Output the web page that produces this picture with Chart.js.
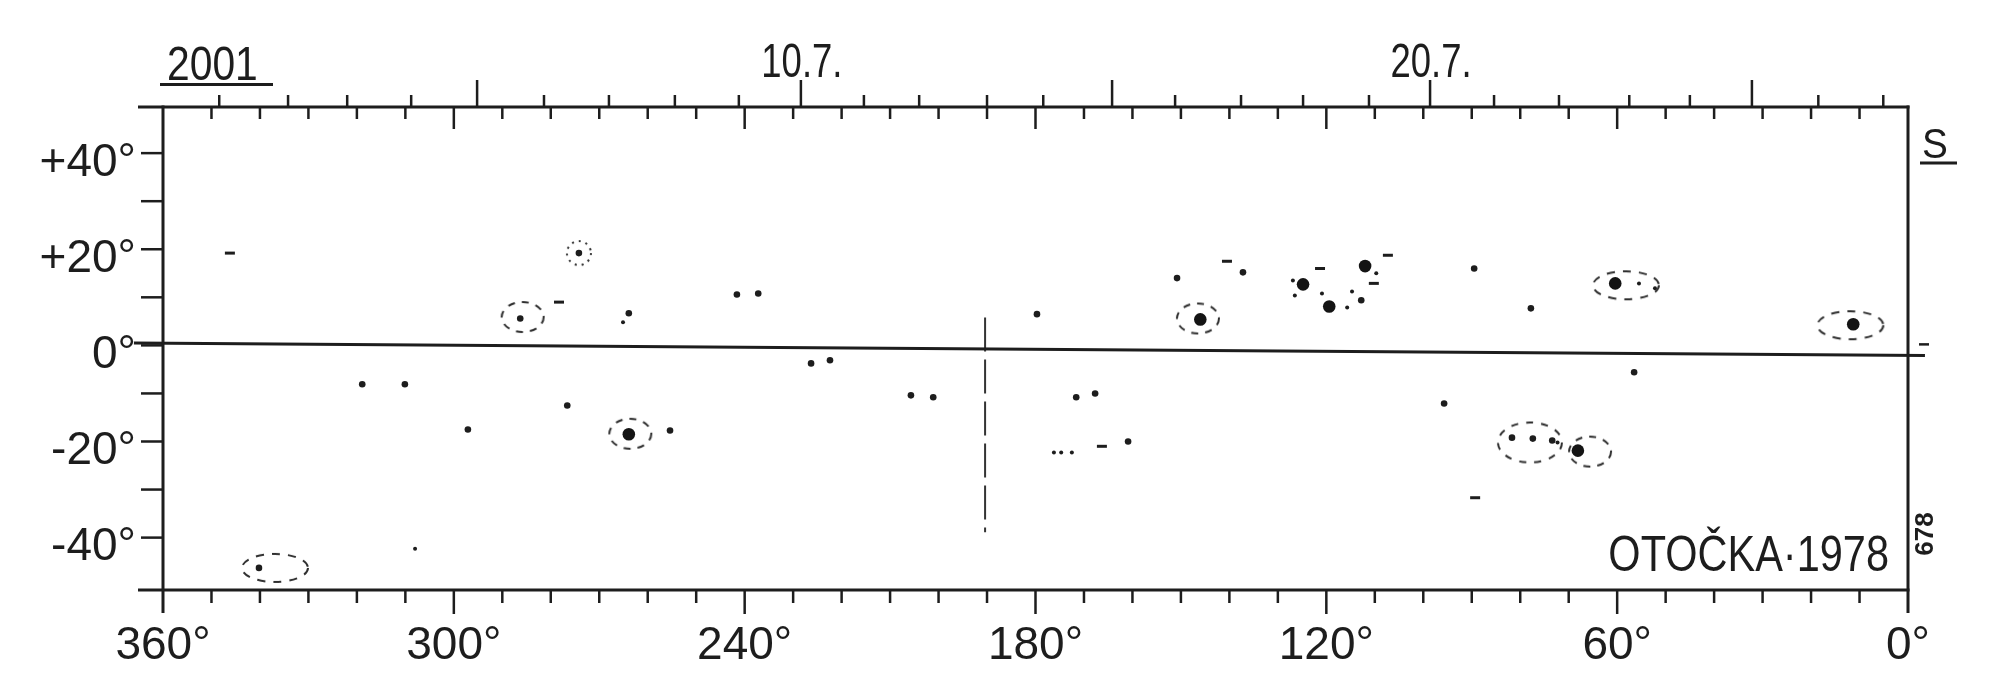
<!DOCTYPE html>
<html>
<head>
<meta charset="utf-8">
<script src="https://cdn.jsdelivr.net/npm/chart.js@4.4.1/dist/chart.umd.min.js"></script>
<style>
html,body{margin:0;padding:0;background:#ffffff;}
canvas{display:block;}
</style>
</head>
<body>
<canvas id="c" width="2000" height="694"></canvas>
<script>
const FONT = '"Liberation Sans", "DejaVu Sans", sans-serif';
const INK = '#1d1d1d';

// ---- axis data ----
const lonTicks = [360,350,340,330,320,310,300,290,280,270,260,250,240,230,220,210,200,190,180,170,160,150,140,130,120,110,100,90,80,70,60,50,40,30,20,10,0];
const lonLabelTicks = [360,300,240,180,120,60,0];
const latTicks = [40,30,20,10,0,-10,-20,-30,-40];
const latLabelTicks = [40,20,0,-20,-40];
const dateDays = [1,2,3,4,5,6,7,8,9,10,11,12,13,14,15,16,17,18,19,20,21,22,23,24,25,26,27];
const dateLon  = [348.4,334.2,322.0,308.8,295.2,281.4,268.0,254.4,241.2,228.4,215.4,204.0,190.0,178.4,164.2,151.2,137.6,124.8,111.2,98.6,85.4,72.0,57.5,45.0,32.2,18.5,5.1];
const dateTitles = {10:'10.7.', 20:'20.7.'};

// ---- marks (longitude, latitude) ----
const spots = [[124.8,12.7],[119.4,8.1],[112.0,16.5],[60.4,12.9],[11.3,4.4],[68.1,-21.9],[263.9,-18.5],[146.0,5.4]];
const dots = [[274.2,19.2],[286.3,5.6],[340.2,-46.3],[81.7,-19.2],[77.4,-19.4],[73.4,-19.8],[112.8,9.4],[77.8,7.7],[89.5,16.0],
  [137.2,15.2],[150.8,14.0],[179.7,6.5],[95.7,-12.1],[56.5,-5.6],[160.9,-20.0],[167.7,-10.0],[171.6,-10.8],[237.2,10.8],
  [241.6,10.6],[226.3,-3.75],[222.4,-3.1],[205.7,-10.4],[201.1,-10.8],[318.9,-8.1],[310.1,-8.1],[297.1,-17.5],[276.6,-12.5],
  [255.4,-17.7],[263.9,6.7]];
const specks = [[265.1,4.8],[308.0,-42.3],[176.2,-22.3],[174.7,-22.3],[172.5,-22.3],[72.3,-20.2],[109.7,15.0],[114.7,11.2],
  [120.9,10.8],[115.7,7.9],[126.9,13.5],[126.5,10.4],[55.5,12.9],[52.2,11.9]];
const dashes = [[346.2,19.2],[278.3,9.0],[140.5,17.5],[121.3,16.0],[166.3,-21.0],[89.3,-31.7],[107.3,18.75],[110.2,12.9]];
const roundHalos = [[146.5,5.6],[263.6,-18.4],[65.6,-22.1],[285.8,5.9]];
const wideHalos = [[11.9,4.2],[336.9,-46.3],[58.2,12.5]];
const clusterHalos = [[78.0,-20.2]];
const ringHalos = [[274.2,19.2]];
const zeroLine = [[366,0.5],[-3.5,-2.1]];
const markerLine = [[190.4,5.8],[190.4,-38.9]];

const pts = a => a.map(p => ({x:p[0], y:p[1]}));

function haloCanvas(w, h, dash, lw){
  const c = document.createElement('canvas');
  c.width = w + 6; c.height = h + 6;
  const g = c.getContext('2d');
  g.strokeStyle = '#2e2e2e'; g.lineWidth = lw; g.setLineDash(dash);
  g.beginPath(); g.ellipse(c.width/2, c.height/2, w/2, h/2, 0, 0, Math.PI*2); g.stroke();
  return c;
}

// text drawn with horizontal condensing, like the stencil lettering
function narrowText(ctx, txt, x, y, size, align, squeeze, weight){
  ctx.save();
  ctx.font = (weight ? weight + ' ' : '') + size + 'px ' + FONT;
  ctx.textAlign = align;
  ctx.textBaseline = 'alphabetic';
  ctx.translate(x, y);
  ctx.scale(squeeze, 1);
  ctx.fillText(txt, 0, 0);
  ctx.restore();
}

const framePlugin = {
  id: 'frame',
  afterDraw(chart){
    const {ctx, chartArea:a, scales} = chart;
    const X = scales.x, Y = scales.y;
    const line = (x1,y1,x2,y2) => { ctx.beginPath(); ctx.moveTo(x1,y1); ctx.lineTo(x2,y2); ctx.stroke(); };
    ctx.save();
    ctx.strokeStyle = INK; ctx.fillStyle = INK; ctx.lineCap = 'butt';
    ctx.lineWidth = 3;
    line(a.left-25, a.top, a.right+1.5, a.top);
    line(a.left-25, a.bottom, a.right+1.5, a.bottom);
    line(a.left, a.top-1.5, a.left, a.bottom+23);
    line(a.right, a.top-1.5, a.right, a.bottom+23);
    ctx.lineWidth = 2.5;
    lonTicks.forEach(v => {
      if (v === 0 || v === 360) return;
      const px = X.getPixelForValue(v);
      const major = v % 60 === 0;
      line(px, a.bottom, px, a.bottom + (major ? 24 : 13));
      line(px, a.top, px, a.top + (major ? 22 : 12));
    });
    dateLon.forEach((v, i) => {
      const px = X.getPixelForValue(v);
      const tall = dateDays[i] % 5 === 0;
      line(px, a.top, px, a.top - (tall ? 27 : 12));
      const t = dateTitles[dateDays[i]];
      if (t) narrowText(ctx, t, px + 1, 77, 48, 'center', 0.76);
    });
    latTicks.forEach(v => {
      const py = Y.getPixelForValue(v);
      line(a.left - 22, py, a.left, py);
    });
    const p0 = Y.getPixelForValue(0);
    line(a.right + 11, p0 - 1, a.right + 21, p0 - 1);

    // texts
    narrowText(ctx, '2001', a.left + 4, 80, 48, 'left', 0.85);
    ctx.lineWidth = 3;
    line(a.left - 3, 84.5, a.left + 110, 84.5);

    narrowText(ctx, 'S', a.right + 14, 158, 43, 'left', 0.9);
    line(a.right + 12, 163, a.right + 49, 163);

    narrowText(ctx, 'OTOČKA·1978', a.right - 19, 571, 50, 'right', 0.83);

    ctx.save();
    ctx.translate(a.right + 18, 534);
    ctx.rotate(-Math.PI/2);
    ctx.font = 'bold 26px ' + FONT;
    ctx.textAlign = 'center';
    ctx.textBaseline = 'middle';
    ctx.fillText('678', 0, 0);
    ctx.restore();
    ctx.restore();
  }
};

const tickFont = {family: FONT, size: 46};
const chart = new Chart(document.getElementById('c'), {
  type: 'scatter',
  data: {
    datasets: [
      {label:'zero', data: pts(zeroLine), showLine:true, borderColor: INK, borderWidth: 3, pointRadius: 0, clip: false},
      {label:'marker', data: pts(markerLine), showLine:true, borderColor: '#333', borderWidth: 2, borderDash:[34,8], pointRadius: 0},
      {label:'roundHalos', data: pts(roundHalos), pointStyle: haloCanvas(42,30,[7,7],2), pointRadius: 20},
      {label:'wideHalos', data: pts(wideHalos), pointStyle: haloCanvas(66,28,[8,8],2), pointRadius: 20},
      {label:'clusterHalos', data: pts(clusterHalos), pointStyle: haloCanvas(64,40,[7,8],2), pointRadius: 20},
      {label:'ringHalos', data: pts(ringHalos), pointStyle: haloCanvas(24,24,[2,5],2), pointRadius: 12},
      {label:'dashes', data: pts(dashes), pointStyle: 'line', pointRadius: 5, borderColor: INK, borderWidth: 3},
      {label:'specks', data: pts(specks), pointRadius: 2, backgroundColor: INK, borderColor: INK, borderWidth: 0},
      {label:'dots', data: pts(dots), pointRadius: 3.3, backgroundColor: INK, borderColor: INK, borderWidth: 0},
      {label:'spots', data: pts(spots), pointRadius: 6.3, backgroundColor: '#141414', borderColor: '#141414', borderWidth: 0}
    ]
  },
  options: {
    responsive: false,
    animation: false,
    devicePixelRatio: 1,
    layout: {padding: {left: 0, right: 92, top: 107, bottom: 0}},
    plugins: {legend: {display: false}, tooltip: {enabled: false}, title: {display: false}},
    scales: {
      x: {
        type: 'linear', position: 'bottom', min: 0, max: 360, reverse: true,
        afterFit: s => { s.height = 104; },
        afterBuildTicks: s => { s.ticks = lonLabelTicks.map(v => ({value: v})); },
        grid: {display: false, drawTicks: false}, border: {display: false},
        ticks: {autoSkip: false, maxRotation: 0, padding: 29, font: tickFont, color: INK, callback: v => v + '°'}
      },
      y: {
        type: 'linear', position: 'left', min: -50.9, max: 49.6,
        afterFit: s => { s.width = 163; },
        afterBuildTicks: s => { s.ticks = latLabelTicks.map(v => ({value: v})); },
        grid: {display: false, drawTicks: false}, border: {display: false},
        ticks: {autoSkip: false, padding: 27, labelOffset: 10, font: tickFont, color: INK,
          callback: v => (v > 0 ? '+' + v : '' + v) + '°'}
      }
    }
  },
  plugins: [framePlugin]
});
</script>
</body>
</html>
